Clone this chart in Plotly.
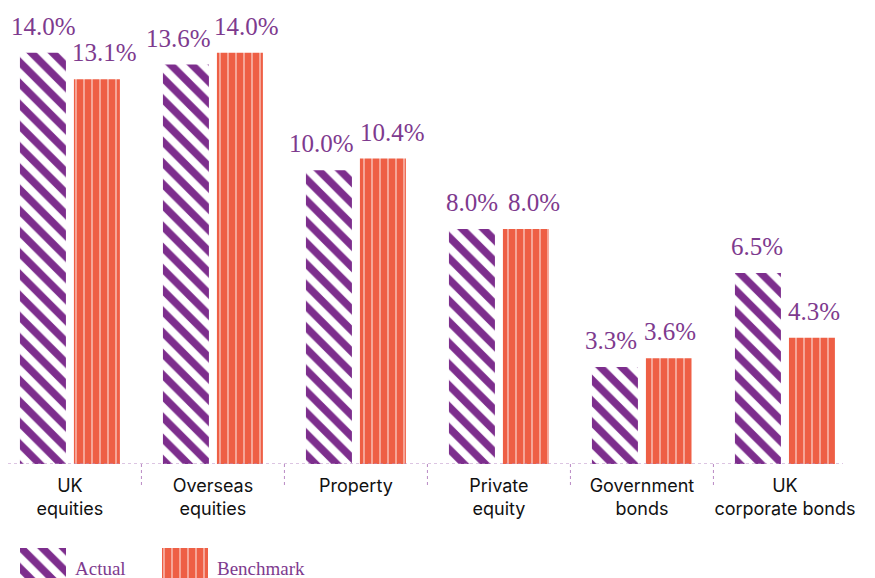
import plotly.graph_objects as go

categories = ["UK<br>equities", "Overseas<br>equities", "Property", "Private<br>equity",
              "Government<br>bonds", "UK<br>corporate bonds"]
actual = [14.0, 13.6, 10.0, 8.0, 3.3, 6.5]
benchmark = [13.1, 14.0, 10.4, 8.0, 3.6, 4.3]
series_names = ["Actual", "Benchmark"]

# horizontal nudges (px) of value labels, as in the original layout
actual_label_nudge = [1, -7, -7, 0, -4, -1]
benchmark_label_nudge = [8, 7, 10, 8, 1, 2]

PURPLE = "#7D2E8D"
ORANGE = "#EE5F45"
LABEL_PURPLE = "#7E3A8E"
AXIS_PURPLE = "#B98AC4"
SERIF = "Liberation Serif, serif"
SANS = "Inter, sans-serif"

W, H = 875, 578
base_px = 464

actual_marker = dict(color=PURPLE, line=dict(width=0),
                     pattern=dict(shape="\\", size=15, solidity=0.5,
                                  fgcolor=PURPLE, bgcolor="white", fillmode="replace"))
bench_marker = dict(color=ORANGE, line=dict(width=0),
                    pattern=dict(shape="|", size=8, solidity=0.13,
                                 fgcolor="rgba(255,255,255,0.85)", bgcolor=ORANGE,
                                 fillmode="replace"))

fig = go.Figure()
fig.add_trace(go.Bar(x=categories, y=actual, name=series_names[0], showlegend=False,
                     marker=actual_marker))
fig.add_trace(go.Bar(x=categories, y=benchmark, name=series_names[1], showlegend=False,
                     marker=bench_marker))

# value labels
half_slot = 27
for vals, sh, nudges in ((actual, -half_slot, actual_label_nudge),
                         (benchmark, half_slot, benchmark_label_nudge)):
    for c, v, n in zip(categories, vals, nudges):
        fig.add_annotation(x=c, y=v, xref="x", yref="y", text=f"{v:.1f}%",
                           showarrow=False, xanchor="center", yanchor="bottom",
                           xshift=sh + n, yshift=11,
                           font=dict(family=SERIF, size=25, color=LABEL_PURPLE))

# dotted baseline
fig.add_shape(type="line", xref="paper", yref="y", x0=8 / W, x1=843 / W, y0=0, y1=0,
              line=dict(color=AXIS_PURPLE, width=1, dash="dot"))
# dotted category dividers
for i in range(len(categories) - 1):
    fig.add_shape(type="line", xref="x", yref="paper", x0=i + 0.5, x1=i + 0.5,
                  y0=(H - base_px) / H, y1=(H - base_px - 24) / H,
                  line=dict(color=AXIS_PURPLE, width=1, dash="dot"))

# custom legend swatches (second subplot in pixel units)
legend_x = [43, 185]
for lx, mk in zip(legend_x, (actual_marker, bench_marker)):
    fig.add_trace(go.Bar(x=[lx], y=[1], width=[46], xaxis="x2", yaxis="y2",
                         showlegend=False, hoverinfo="skip", marker=mk))
for lx, name in zip(legend_x, series_names):
    fig.add_annotation(x=lx + 30, y=0, xref="x2", yref="paper", text=name,
                       showarrow=False, xanchor="left", yanchor="bottom", yshift=-3,
                       font=dict(family=SERIF, size=19, color=LABEL_PURPLE))

x0 = -0.489
fig.update_layout(
    width=W, height=H,
    margin=dict(l=0, r=0, t=0, b=0),
    paper_bgcolor="white", plot_bgcolor="white",
    barmode="group", bargap=0.245, bargroupgap=0.148,
    xaxis=dict(type="category", range=[x0, x0 + W / 143.0], domain=[0, 1],
               showgrid=False, zeroline=False, showline=False, ticks="",
               tickfont=dict(family=SANS, size=18, color="#111111"),
               ticklabelstandoff=9),
    yaxis=dict(range=[0, 15.8], domain=[(H - base_px) / H, 1], visible=False),
    xaxis2=dict(range=[0, W], domain=[0, 1], anchor="y2", visible=False),
    yaxis2=dict(range=[0, 1], domain=[0, 30 / H], anchor="x2", visible=False),
)

fig.write_html("out.html")
